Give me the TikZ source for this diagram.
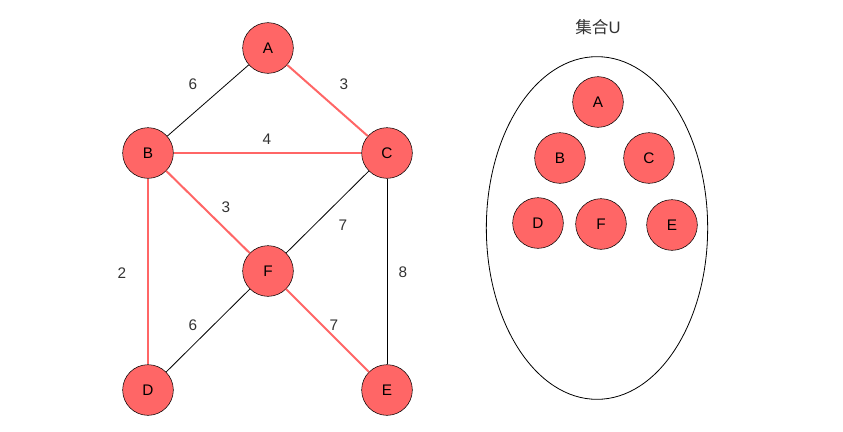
\documentclass[tikz,border=0pt]{standalone}
\usepackage{fontspec}
\setmainfont{Liberation Sans}
\newfontfamily\cjk{Noto Sans CJK SC}
\usetikzlibrary{shapes,arrows}
\definecolor{nodered}{HTML}{FF6666}
\definecolor{labelgray}{HTML}{333333}

\begin{document}
\begin{tikzpicture}[x=0.75pt,y=-0.75pt,
  vertex/.style={shape=circle, draw, fill=nodered, minimum size=38pt, inner sep=0pt, font=\fontsize{11.5}{13}\selectfont},
  weight/.style={text=labelgray, font=\fontsize{11.5}{13}\selectfont},
  chosen/.style={draw=nodered, line width=1.5pt},
  plain/.style={draw=black, line width=0.6pt}]
\useasboundingbox (0,0) rectangle (843,432);
% graph
\node (a) at (268,48) [vertex]{A};
\node (b) at (148,153) [vertex]{B};
\node (c) at (387,153) [vertex]{C};
\node (f) at (268,271) [vertex]{F};
\node (d) at (148,390) [vertex]{D};
\node (e) at (387,390) [vertex]{E};

\draw [plain] (a) -- (b);
\draw [chosen] (a) -- (c);
\draw [chosen] (b) -- (c);
\draw [chosen] (b) -- (f);
\draw [plain] (c) -- (f);
\draw [plain] (c) -- (e);
\draw [chosen] (b) -- (d);
\draw [plain] (f) -- (d);
\draw [chosen] (f) -- (e);

\node (wab) at (193,84) [weight]{6};
\node (wac) at (344,84) [weight]{3};
\node (wbc) at (267,139) [weight]{4};
\node (wbf) at (226,207) [weight]{3};
\node (wcf) at (343,225) [weight]{7};
\node (wce) at (403,272) [weight]{8};
\node (wbd) at (122,273) [weight]{2};
\node (wfd) at (193,325) [weight]{6};
\node (wfe) at (334,325) [weight]{7};

% set U
\node (setu) at (597,228) [shape=ellipse, draw, minimum width=166pt, minimum height=257pt, line width=0.6pt]{};
\node (title) at (598,27) [weight, font=\fontsize{12.5}{14}\selectfont]{{\cjk 集合}U};
\node (ua) at (598,102) [vertex]{A};
\node (ub) at (560,158) [vertex]{B};
\node (uc) at (649,158) [vertex]{C};
\node (ud) at (538,223) [vertex]{D};
\node (uf) at (601,224) [vertex]{F};
\node (ue) at (672,225) [vertex]{E};
\end{tikzpicture}
\end{document}
